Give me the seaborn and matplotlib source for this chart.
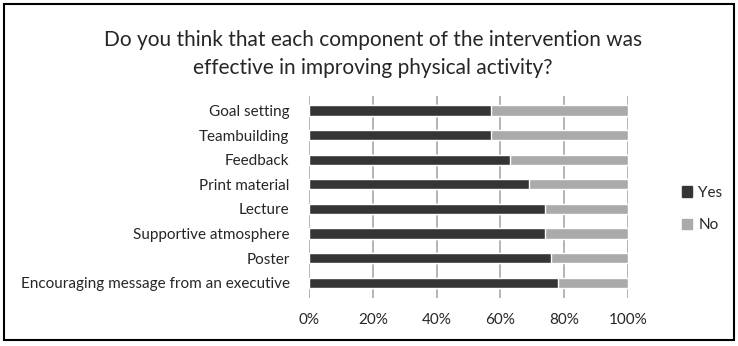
import numpy as np
import pandas as pd
import matplotlib
matplotlib.use("Agg")
import matplotlib.pyplot as plt
import seaborn as sns
from matplotlib.patches import Rectangle, Patch

sns.set_theme(style="white")
plt.rcParams['font.family'] = ['Lato', 'DejaVu Sans']

# data
components = ["Goal setting", "Teambuilding", "Feedback", "Print material",
              "Lecture", "Supportive atmosphere", "Poster",
              "Encouraging message from an executive"]
yes_pct = [57, 57, 63, 69, 74, 74, 76, 78]
no_pct = [43, 43, 37, 31, 26, 26, 24, 22]

df = pd.DataFrame({"component": components, "Yes": yes_pct, "No": no_pct})
df["total"] = df["Yes"] + df["No"]

dark = "#353535"
light = "#aaaaaa"

fig = plt.figure(figsize=(7.38, 3.46), dpi=100)
ax = fig.add_axes([0.4187, 0.139, 0.4323, 0.584])

sns.barplot(data=df, y="component", x="total", color=light, orient="h",
            width=0.42, ax=ax, saturation=1)
sns.barplot(data=df, y="component", x="Yes", color=dark, orient="h",
            width=0.42, ax=ax, saturation=1)

ax.set_xlim(0, 100)
ax.set_ylim(7.62, -0.6)
ax.set_xticks(np.arange(0, 101, 20))
ax.set_xticklabels([f"{v}%" for v in range(0, 101, 20)], fontsize=11)
ax.tick_params(axis="x", length=0, pad=11)
ax.tick_params(axis="y", length=0, pad=14, labelsize=11)
ax.set_xlabel("")
ax.set_ylabel("")
ax.xaxis.grid(True, color="#a8a8a8", linewidth=1.2)
ax.set_axisbelow(True)
for s in ax.spines.values():
    s.set_visible(False)

fig.suptitle("Do you think that each component of the intervention was\n"
             "effective in improving physical activity?",
             x=0.505, y=0.912, fontsize=15, linespacing=1.5)

handles = [Patch(color=dark, label="Yes"), Patch(color=light, label="No")]
fig.legend(handles=handles, loc="center left", bbox_to_anchor=(0.905, 0.395),
           frameon=False, fontsize=11, handlelength=0.7, handleheight=0.7,
           handletextpad=0.4, labelspacing=1.2)

fig.patches.append(Rectangle((0.006, 0.018), 0.988, 0.97, transform=fig.transFigure,
                             fill=False, edgecolor="black", linewidth=1.5))

fig.savefig("out.png", dpi=100)
